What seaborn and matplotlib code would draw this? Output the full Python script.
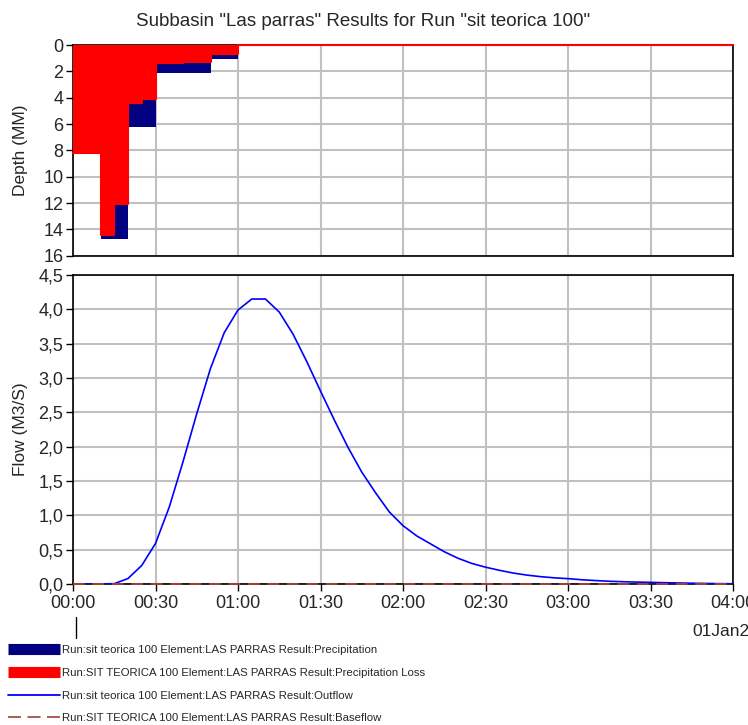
import numpy as np
import pandas as pd
import matplotlib
matplotlib.use("Agg")
import matplotlib.pyplot as plt
from matplotlib.lines import Line2D
from matplotlib.ticker import FuncFormatter
import seaborn as sns

# ---------------- data ----------------
# hyetograph, 5-minute periods (start minute)
precip_start = [0, 5, 10, 15, 20, 25, 30, 35, 40, 45, 50, 55]
precip_mm = [8.2, 8.2, 14.7, 14.7, 6.2, 6.2, 2.1, 2.1, 2.1, 2.1, 1.06, 1.06]
loss_mm = [8.2, 8.2, 14.43, 12.07, 4.38, 4.12, 1.39, 1.34, 1.30, 1.26, 0.68, 0.66]

# outflow hydrograph, every 5 minutes from 00:00 to 04:00
flow_min = list(range(0, 245, 5))
outflow = [0.0, 0.0, 0.0, 0.005, 0.08, 0.27, 0.59, 1.12, 1.78, 2.48, 3.14, 3.66,
           3.99, 4.15, 4.15, 3.96, 3.64, 3.24, 2.81, 2.39, 1.99, 1.63, 1.33, 1.05,
           0.85, 0.70, 0.585, 0.47, 0.375, 0.30, 0.245, 0.20, 0.16, 0.13, 0.107,
           0.09, 0.078, 0.062, 0.05, 0.04, 0.033, 0.028, 0.024, 0.019, 0.015,
           0.011, 0.008, 0.005, 0.003]
baseflow = [0.0] * len(flow_min)

x_ticks = [0, 30, 60, 90, 120, 150, 180, 210, 240]
x_labels = ["00:00", "00:30", "01:00", "01:30", "02:00", "02:30", "03:00", "03:30", "04:00"]
depth_ticks = [0, 2, 4, 6, 8, 10, 12, 14, 16]
flow_ticks = [0.0, 0.5, 1.0, 1.5, 2.0, 2.5, 3.0, 3.5, 4.0, 4.5]

title = 'Subbasin "Las parras" Results for Run "sit teorica 100"'
legend_labels = [
    "Run:sit teorica 100 Element:LAS PARRAS Result:Precipitation",
    "Run:SIT TEORICA 100 Element:LAS PARRAS Result:Precipitation Loss",
    "Run:sit teorica 100 Element:LAS PARRAS Result:Outflow",
    "Run:SIT TEORICA 100 Element:LAS PARRAS Result:Baseflow",
]

# ---------------- style ----------------
sns.set_theme(style="white")
plt.rcParams["font.family"] = ["Liberation Sans", "DejaVu Sans"]

BLUE_P = "#000080"
RED_L = "#ff0000"
BLUE_F = "#0000ff"
BROWN = "#a0403c"
GRID = "#c0c0c0"

W, H = 748, 725
fig = plt.figure(figsize=(W / 100, H / 100), dpi=100)
fig.patch.set_facecolor("white")

def px_axes(x0, y0, x1, y1):
    return fig.add_axes([x0 / W, 1 - y1 / H, (x1 - x0) / W, (y1 - y0) / H])

ax1 = px_axes(73, 45, 733, 255.7)
ax2 = px_axes(73, 275, 733, 584)

for ax in (ax1, ax2):
    ax.set_facecolor("white")
    ax.set_xlim(0, 240)
    ax.set_xticks(x_ticks)
    ax.grid(True, color=GRID, linewidth=1.5)
    ax.set_axisbelow(True)
    for s in ax.spines.values():
        s.set_visible(True)
        s.set_color("black")
        s.set_linewidth(1.2)
    ax.tick_params(axis="y", which="major", direction="out", length=5, width=1,
                   color="black", labelsize=13, pad=2, left=True)

# ---------- top: hyetograph ----------
ax1.bar(precip_start, precip_mm, width=5, align="edge", color=BLUE_P, linewidth=0, zorder=2)
ax1.bar(precip_start, loss_mm, width=5, align="edge", color=RED_L, linewidth=0, zorder=3)
loss_full = loss_mm + [0.0] * (len(flow_min) - len(loss_mm))
ax1.step(flow_min, loss_full, where="post", color=RED_L, linewidth=1.5, zorder=4, clip_on=False)
ax1.set_ylim(16, 0)
ax1.set_yticks(depth_ticks)
ax1.set_yticklabels([str(v) for v in depth_ticks])
ax1.set_xticklabels([])
ax1.tick_params(axis="x", length=0)
ax1.set_ylabel("Depth (MM)", fontsize=12.5)

# ---------- bottom: hydrograph ----------
df = pd.DataFrame({"t": flow_min, "Outflow": outflow, "Baseflow": baseflow})
sns.lineplot(data=df, x="t", y="Outflow", ax=ax2, color=BLUE_F, linewidth=1.2, zorder=4)
sns.lineplot(data=df, x="t", y="Baseflow", ax=ax2, color=BROWN, linewidth=1.4,
             linestyle=(0, (6, 4)), zorder=6, clip_on=False)
ax2.set_ylim(0, 4.5)
ax2.set_yticks(flow_ticks)
ax2.yaxis.set_major_formatter(FuncFormatter(lambda v, p: f"{v:.1f}".replace(".", ",")))
ax2.set_xticklabels(x_labels)
ax2.tick_params(axis="x", direction="out", length=5, width=1, color="black",
                labelsize=13, pad=3, bottom=True)
ax2.set_xlabel("")
ax2.set_ylabel("Flow (M3/S)", fontsize=12.5)

# align y labels (centre near x = 22 px)
ax1.yaxis.set_label_coords(-0.068, 0.5)
ax2.yaxis.set_label_coords(-0.068, 0.5)

# title
fig.text(363 / W, 1 - 22 / H, title, ha="center", va="center", fontsize=13.5)

# date marker
fig.add_artist(Line2D([76 / W, 76 / W], [1 - 617 / H, 1 - 638 / H], color="black", linewidth=1))
fig.text(692 / W, 1 - 631 / H, "01Jan2000", ha="left", va="center", fontsize=12.5)

# legend
handles = [
    Line2D([0], [0], color=BLUE_P, linewidth=8, solid_capstyle="butt"),
    Line2D([0], [0], color=RED_L, linewidth=8, solid_capstyle="butt"),
    Line2D([0], [0], color=BLUE_F, linewidth=1.3),
    Line2D([0], [0], color=BROWN, linewidth=1.2, linestyle=(0, (7.8, 3.9))),
]
leg = fig.legend(handles, legend_labels, loc="upper left",
                 bbox_to_anchor=(8 / W, 1 - 645 / H), frameon=False,
                 prop={"family": ["Liberation Sans"], "size": 8.2},
                 handlelength=4.6, handletextpad=0.1, labelspacing=1.12,
                 borderaxespad=0, borderpad=0)

fig.savefig("out.png", dpi=100, facecolor="white")
